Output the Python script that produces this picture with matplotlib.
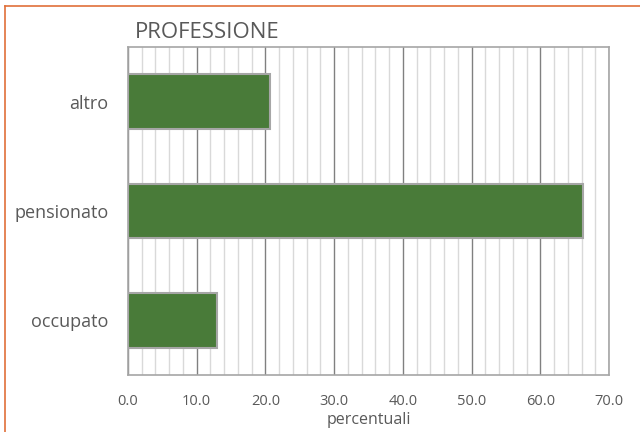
import matplotlib
matplotlib.use("Agg")
import matplotlib.pyplot as plt
from matplotlib.lines import Line2D
from matplotlib.ticker import MultipleLocator

categories = ["occupato", "pensionato", "altro"]
values = [13.0, 66.2, 20.7]
xticks = [0, 10, 20, 30, 40, 50, 60, 70]
xticklabels = ["0.0", "10.0", "20.0", "30.0", "40.0", "50.0", "60.0", "70.0"]
title = "PROFESSIONE"
xlabel = "percentuali"

plt.rcParams['font.family'] = ['Open Sans', 'DejaVu Sans']
txt = '#595959'

fig = plt.figure(figsize=(6.4, 4.32), dpi=100)
ax = fig.add_axes([128/640, 1-375/432, (609-128)/640, (375-47)/432])

ax.set_xlim(0, 70)
ax.set_ylim(-0.5, 2.5)
ax.xaxis.set_minor_locator(MultipleLocator(2))
ax.set_xticks(xticks)
ax.set_xticklabels(xticklabels)
ax.grid(which='minor', axis='x', color='#D9D9D9', linewidth=1.0, zorder=0)
ax.grid(which='major', axis='x', color='#808080', linewidth=1.0, zorder=0)
ax.set_axisbelow(True)

ax.barh(range(len(categories)), values, height=0.5, color='#497B39',
        edgecolor='#A6A6A6', linewidth=1.5, zorder=3)
ax.set_yticks(range(len(categories)))
ax.set_yticklabels(categories)

for s in ax.spines.values():
    s.set_color('#A6A6A6')
    s.set_linewidth(1.2)
ax.tick_params(which='both', length=0, colors=txt)
ax.tick_params(axis='x', pad=14, labelsize=10.5)
ax.tick_params(axis='y', pad=14, labelsize=13)

ax.set_xlabel(xlabel, color=txt, fontsize=11.5, labelpad=2)
fig.text(135/640, 1-33/432, title, color=txt, fontsize=16, ha='left', va='center')

fig.add_artist(Line2D([4.5/640, 4.5/640], [0, 1-6/432], color='#E0703A', linewidth=1.2))
fig.add_artist(Line2D([4.5/640, 1], [1-6/432, 1-6/432], color='#E0703A', linewidth=1.2))

fig.savefig("out.png", dpi=100)
